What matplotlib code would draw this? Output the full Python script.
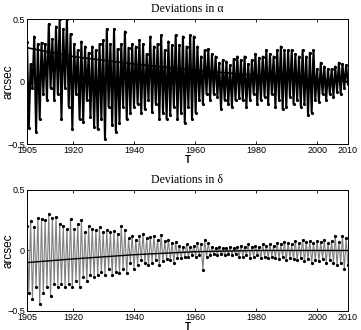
import numpy as np
import matplotlib
matplotlib.use("Agg")
import matplotlib.pyplot as plt

# ---- data ----
alpha_peaks = [0.32, 0.14, 0.36, 0.30, 0.31, 0.30, 0.46, 0.34,
               0.44, 0.50, 0.42, 0.50, 0.38, 0.30, 0.25, 0.32, 0.28,
               0.23, 0.28, 0.25, 0.30, 0.33, 0.42, 0.30, 0.42,
               0.26, 0.30, 0.40, 0.27, 0.30, 0.28, 0.33, 0.30, 0.22,
               0.36, 0.28, 0.30, 0.37, 0.25, 0.32, 0.29, 0.37,
               0.29, 0.36, 0.28, 0.37, 0.36, 0.28, 0.20, 0.25, 0.26,
               0.22, 0.20, 0.15, 0.17, 0.16, 0.13, 0.18, 0.20,
               0.17, 0.20, 0.14, 0.17, 0.22, 0.19, 0.20, 0.25, 0.22,
               0.20, 0.25, 0.28, 0.25, 0.25, 0.25, 0.22, 0.20,
               0.25, 0.20, 0.23, 0.25, 0.10, 0.15, 0.12, 0.10, 0.10, 0.12, 0.15, 0.14, 0.13]
alpha_troughs = [-0.37, -0.05, -0.40, -0.30, -0.10, -0.15, -0.05, -0.15,
                 -0.10, -0.30, -0.05, -0.20, -0.38, -0.10, -0.30, -0.32, -0.15,
                 -0.28, -0.36, -0.38, -0.30, -0.46, -0.20, -0.35, -0.40,
                 -0.33, -0.20, -0.30, -0.25, -0.20, -0.18, -0.25, -0.22, -0.15,
                 -0.24, -0.18, -0.30, -0.25, -0.30, -0.27, -0.20, -0.30,
                 -0.25, -0.33, -0.20, -0.30, -0.25, -0.15, -0.18, -0.10, -0.15,
                 -0.10, -0.12, -0.22, -0.15, -0.18, -0.20, -0.15, -0.13,
                 -0.15, -0.20, -0.15, -0.10, -0.18, -0.15, -0.12, -0.18, -0.10,
                 -0.20, -0.15, -0.22, -0.20, -0.12, -0.18, -0.15, -0.20,
                 -0.18, -0.27, -0.25, -0.15, -0.16, -0.10, -0.15, -0.10, -0.12, -0.08, -0.10, -0.05, -0.02]

delta_peaks = [0.20, 0.24, 0.19, 0.27, 0.26, 0.25, 0.30, 0.27,
               0.28, 0.22, 0.20, 0.18, 0.26, 0.18, 0.22, 0.25, 0.15,
               0.20, 0.18, 0.17, 0.19, 0.15, 0.17, 0.15, 0.16,
               0.14, 0.20, 0.17, 0.10, 0.12, 0.09, 0.12, 0.14, 0.10,
               0.11, 0.12, 0.09, 0.13, 0.08, 0.09, 0.06, 0.07,
               0.04, 0.03, 0.05, 0.03, 0.04, 0.06, 0.05, 0.09, 0.06,
               0.03, 0.02, 0.03, 0.02, 0.02, 0.03, 0.02, 0.03,
               0.04, 0.03, 0.05, 0.03, 0.04, 0.03, 0.05, 0.04, 0.05,
               0.04, 0.06, 0.05, 0.07, 0.06, 0.05, 0.08, 0.06,
               0.09, 0.07, 0.08, 0.06, 0.08, 0.07, 0.09, 0.06, 0.08, 0.12, 0.07, 0.12, 0.10]
delta_troughs = [-0.35, -0.40, -0.30, -0.44, -0.35, -0.30, -0.38, -0.28,
                 -0.30, -0.28, -0.30, -0.28, -0.30, -0.25, -0.30, -0.22, -0.25,
                 -0.20, -0.22, -0.20, -0.18, -0.20, -0.15, -0.20, -0.18,
                 -0.19, -0.15, -0.19, -0.10, -0.15, -0.12, -0.08, -0.10, -0.12,
                 -0.10, -0.08, -0.12, -0.09, -0.07, -0.08, -0.10, -0.06,
                 -0.06, -0.05, -0.05, -0.04, -0.05, -0.04, -0.16, -0.05, -0.04,
                 -0.03, -0.04, -0.03, -0.04, -0.03, -0.04, -0.03, -0.05,
                 -0.05, -0.04, -0.06, -0.05, -0.04, -0.06, -0.05, -0.06, -0.05,
                 -0.06, -0.07, -0.05, -0.08, -0.06, -0.07, -0.08, -0.06,
                 -0.09, -0.07, -0.10, -0.08, -0.09, -0.07, -0.10, -0.08, -0.10, -0.12, -0.10, -0.15, -0.12]

trend_years = [1905, 1920, 1940, 1960, 1980, 2010]
alpha_trend = [0.27, 0.20, 0.14, 0.09, 0.05, 0.00]
delta_trend = [-0.10, -0.07, -0.035, -0.01, 0.0, 0.0]

xticks = [1905, 1920, 1940, 1960, 1980, 2000, 2010]
yticks = [-0.5, 0, 0.5]
ytick_labels = ["\u22120.5", "0", "0.5"]
titles = ["Deviations in \u03b1", "Deviations in \u03b4"]
t_start, t_end = 1905, 2010


def interleave(p, q):
    out = []
    for a, b in zip(p, q):
        out += [a, b]
    return np.array(out)


alpha = interleave(alpha_peaks, alpha_troughs)
delta = interleave(delta_peaks, delta_troughs)
t_alpha = np.linspace(t_start, t_end, len(alpha))
t_delta = np.linspace(t_start, t_end, len(delta))

fig = plt.figure(figsize=(3.61, 3.30), dpi=100)
ax1 = fig.add_axes([0.0748, 0.5636, 0.889, 0.3788])
ax2 = fig.add_axes([0.0748, 0.0576, 0.889, 0.3667])

ax1.plot(t_alpha, alpha, color="black", lw=1.5, marker=".", ms=2.5)
ax1.plot(trend_years, alpha_trend, color="black", lw=1.2)
ax2.plot(t_delta, delta, color="0.5", lw=0.8, marker=".", ms=2.6, mfc="black", mec="black")
ax2.plot(trend_years, delta_trend, color="black", lw=1.0)

for ax, title in zip([ax1, ax2], titles):
    ax.set_xlim(t_start, t_end)
    ax.set_ylim(-0.5, 0.5)
    ax.set_xticks(xticks)
    ax.set_xticklabels([str(v) for v in xticks], fontsize=6.5, family="Liberation Sans")
    ax.set_yticks(yticks)
    ax.set_yticklabels(ytick_labels, fontsize=6.5, family="Liberation Sans")
    ax.tick_params(direction="in", length=2.5, width=0.6, top=True, right=True, pad=1.5)
    for s in ax.spines.values():
        s.set_linewidth(0.7)
    ax.set_title(title, fontsize=8.5, family="Liberation Serif", pad=5)
    ax.set_ylabel("arcsec", fontsize=8.5, family="Liberation Sans")
    ax.yaxis.set_label_coords(-0.04, 0.5)
    ax.set_xlabel("T", fontsize=7, family="Liberation Sans", fontweight="bold", labelpad=0)

fig.savefig("out.png", dpi=100)
